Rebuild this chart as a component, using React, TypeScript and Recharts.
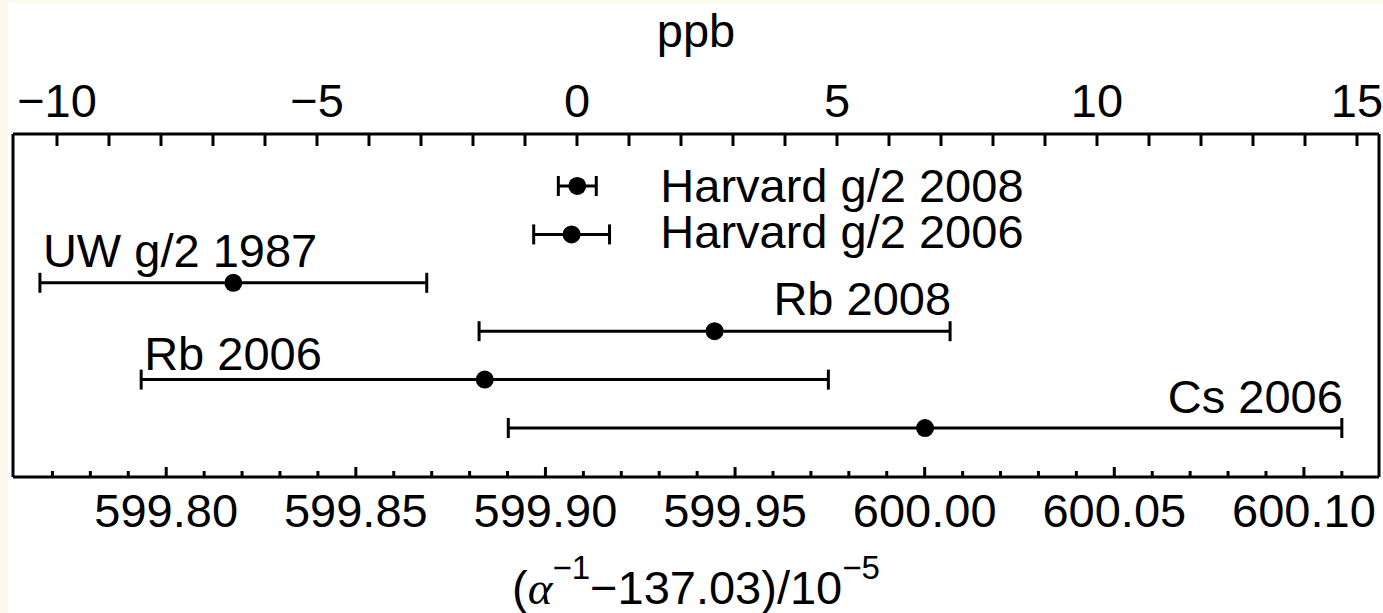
import { ScatterChart, Scatter, XAxis, YAxis, ErrorBar } from 'recharts';

// measurements, in units of (alpha^-1 - 137.03) / 1e-5
const names = ['Harvard g/2 2008', 'Harvard g/2 2006', 'UW g/2 1987', 'Rb 2008', 'Rb 2006', 'Cs 2006'];
const values = [599.9084, 599.9069, 599.8177, 599.9446, 599.884, 600.0001];
const errors = [0.005, 0.01, 0.051, 0.0621, 0.0906, 0.1099];
const rows = [6, 5, 4, 3, 2, 1];

// where each name sits: next to the Harvard points, or above the left / right end of the bar
const placement = ['legend', 'legend', 'left', 'right', 'left', 'right'];
const legendX = 599.9303;

const ppbTicks = [-10, -9, -8, -7, -6, -5, -4, -3, -2, -1, 0, 1, 2, 3, 4, 5, 6, 7, 8, 9, 10, 11, 12, 13, 14, 15];
const ppbLabels: Record<number, string> = { '-10': '−10', '-5': '−5', 0: '0', 5: '5', 10: '10', 15: '15' };

const alphaTicks = [
  599.77, 599.78, 599.79, 599.8, 599.81, 599.82, 599.83, 599.84, 599.85, 599.86, 599.87, 599.88,
  599.89, 599.9, 599.91, 599.92, 599.93, 599.94, 599.95, 599.96, 599.97, 599.98, 599.99, 600.0,
  600.01, 600.02, 600.03, 600.04, 600.05, 600.06, 600.07, 600.08, 600.09, 600.1, 600.11,
];
const alphaLabels = [599.8, 599.85, 599.9, 599.95, 600.0, 600.05, 600.1];

const ppbDomain = [-10.846, 15.423];
const alphaDomain = [599.7596, 600.1198];
const rowDomain = [-0.012, 7.074];

const FONT = '"Liberation Sans", Arial, sans-serif';
const SIZE = 47;

const points = names.map((name, i) => ({ name, x: values[i], y: rows[i], err: errors[i] }));
const labels = names.map((name, i) => ({
  name,
  place: placement[i],
  x: placement[i] === 'legend' ? legendX : placement[i] === 'left' ? values[i] - errors[i] : values[i] + errors[i],
  y: rows[i],
}));
// invisible anchors so the ppb axis has something to scale
const ppbAnchors = [ppbTicks[0], ppbTicks[ppbTicks.length - 1]].map((t) => ({ x: t, y: 1 }));

// baseline shift of each name relative to its row
const labelShift: Record<string, number> = {
  'Harvard g/2 2008': 16,
  'Harvard g/2 2006': 14,
  'UW g/2 1987': -16,
  'Rb 2008': -16,
  'Rb 2006': -10,
  'Cs 2006': -15,
};

function Dot(props: any) {
  const { cx, cy } = props;
  return <circle cx={cx} cy={cy} r={9} fill="#000" />;
}

function Nothing() {
  return <g />;
}

function NameLabel(props: any) {
  const { cx, cy, payload } = props;
  const p = payload.place;
  const anchor = p === 'right' ? 'end' : 'start';
  const dx = p === 'left' ? 3 : p === 'right' ? 1 : 0;
  return (
    <text
      x={cx + dx}
      y={cy + labelShift[payload.name]}
      textAnchor={anchor}
      fontFamily={FONT}
      fontSize={SIZE}
      fill="#000"
    >
      {payload.name}
    </text>
  );
}

function TopTick(props: any) {
  const { x, y, payload } = props;
  const label = ppbLabels[payload.value];
  return (
    <g>
      <line x1={x} y1={y} x2={x} y2={y + 12} stroke="#000" strokeWidth={3} />
      {label !== undefined && (
        <text x={x} y={y - 17} textAnchor="middle" fontFamily={FONT} fontSize={SIZE} fill="#000">
          {label}
        </text>
      )}
    </g>
  );
}

function BottomTick(props: any) {
  const { x, y, payload } = props;
  const major = alphaLabels.some((v) => Math.abs(v - payload.value) < 1e-6);
  return (
    <g>
      <line x1={x} y1={y} x2={x} y2={y - (major ? 10 : 6)} stroke="#000" strokeWidth={3} />
      {major && (
        <text x={x} y={y + 50} textAnchor="middle" fontFamily={FONT} fontSize={SIZE} fill="#000">
          {payload.value.toFixed(2)}
        </text>
      )}
    </g>
  );
}

function TopTitle(props: any) {
  const vb = props.viewBox;
  return (
    <text x={vb.x + vb.width / 2} y={47} textAnchor="middle" fontFamily={FONT} fontSize={SIZE} fill="#000">
      ppb
    </text>
  );
}

function BottomTitle(props: any) {
  const vb = props.viewBox;
  return (
    <text x={vb.x + vb.width / 2} y={604} textAnchor="middle" fontFamily={FONT} fontSize={SIZE} fill="#000">
      (<tspan fontFamily='"Liberation Serif", serif' fontStyle="italic">α</tspan>
      <tspan fontSize={33} dy={-25}>−1</tspan>
      <tspan dy={25}>−137.03)/10</tspan>
      <tspan fontSize={33} dy={-25}>−5</tspan>
    </text>
  );
}

export default function App() {
  return (
    <div style={{ position: 'fixed', left: 0, top: 0, width: 1383, height: 613, background: '#fdf9ee' }}>
      <div style={{ position: 'absolute', left: 8, top: 3, right: 0, bottom: 0, background: '#fff' }} />
      <div style={{ position: 'absolute', left: 0, top: 0 }}>
        <ScatterChart width={1383} height={613} margin={{ top: 0, right: 3, bottom: 0, left: 12 }}>
          <XAxis
            xAxisId="ppb"
            dataKey="x"
            orientation="top"
            type="number"
            domain={ppbDomain}
            allowDataOverflow
            ticks={ppbTicks}
            interval={0}
            height={134}
            tickSize={0}
            tickMargin={0}
            tickLine={false}
            tick={<TopTick />}
            axisLine={{ stroke: '#000', strokeWidth: 3 }}
            label={{ content: TopTitle }}
          />
          <XAxis
            xAxisId="alpha"
            dataKey="x"
            orientation="bottom"
            type="number"
            domain={alphaDomain}
            allowDataOverflow
            ticks={alphaTicks}
            interval={0}
            height={136}
            tickSize={0}
            tickMargin={0}
            tickLine={false}
            tick={<BottomTick />}
            axisLine={{ stroke: '#000', strokeWidth: 3 }}
            label={{ content: BottomTitle }}
          />
          <YAxis
            yAxisId="row"
            dataKey="y"
            type="number"
            domain={rowDomain}
            allowDataOverflow
            width={1}
            tick={false}
            tickLine={false}
            axisLine={{ stroke: '#000', strokeWidth: 3 }}
          />
          <YAxis
            yAxisId="rowRight"
            dataKey="y"
            orientation="right"
            type="number"
            domain={rowDomain}
            allowDataOverflow
            width={1}
            tick={false}
            tickLine={false}
            axisLine={{ stroke: '#000', strokeWidth: 3 }}
          />
          <Scatter
            data={ppbAnchors}
            xAxisId="ppb"
            yAxisId="rowRight"
            shape={<Nothing />}
            isAnimationActive={false}
          />
          <Scatter
            data={points}
            xAxisId="alpha"
            yAxisId="row"
            shape={<Dot />}
            isAnimationActive={false}
          >
            <ErrorBar dataKey="err" direction="x" width={10} stroke="#000" strokeWidth={3} isAnimationActive={false} />
          </Scatter>
          <Scatter
            data={labels}
            xAxisId="alpha"
            yAxisId="row"
            shape={<NameLabel />}
            isAnimationActive={false}
          />
        </ScatterChart>
      </div>
    </div>
  );
}
